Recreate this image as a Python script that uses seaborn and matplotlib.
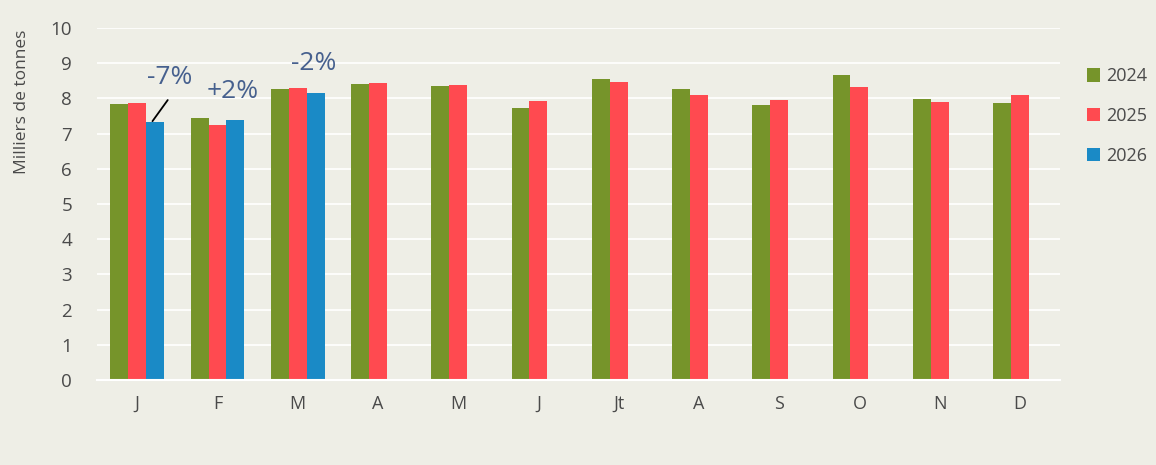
import pandas as pd
import seaborn as sns
import matplotlib.pyplot as plt
from matplotlib.patches import Patch

months = ["jan", "feb", "mar", "apr", "may", "jun", "jul", "aug", "sep", "oct", "nov", "dec"]
month_labels = ["J", "F", "M", "A", "M", "J", "Jt", "A", "S", "O", "N", "D"]
vals_2024 = [7.84, 7.44, 8.27, 8.41, 8.35, 7.73, 8.55, 8.27, 7.81, 8.66, 7.98, 7.87]
vals_2025 = [7.87, 7.24, 8.30, 8.44, 8.38, 7.93, 8.47, 8.09, 7.95, 8.32, 7.90, 8.10]
vals_2026 = [7.33, 7.39, 8.15]
years = ["2024", "2025", "2026"]
colors = ["#76942a", "#ff4a50", "#1a8ac6"]
pct_labels = ["-7%", "+2%", "-2%"]

rows = []
for yr, vals in zip(years, [vals_2024, vals_2025, vals_2026]):
    for m, v in zip(months, vals):
        rows.append({"month": m, "year": yr, "value": v})
df = pd.DataFrame(rows)

BG = "#eeeee6"
TXT = "#4a4a4a"
sns.set_theme(style="white")
plt.rcParams["font.family"] = ["Open Sans", "DejaVu Sans"]

fig = plt.figure(figsize=(11.56, 4.65), dpi=100, facecolor=BG)
ax = fig.add_axes([0.084, 0.183, 0.833, 0.757], facecolor=BG)

sns.barplot(data=df, x="month", y="value", hue="year", order=months,
            hue_order=years, palette=colors, width=0.67, saturation=1,
            linewidth=0, ax=ax, legend=False)

ax.set_ylim(0, 10)
ax.set_xlim(-0.5, 11.5)
ax.set_yticks(range(0, 11))
ax.yaxis.grid(True, color="white", lw=1.2)
ax.set_axisbelow(True)
for s in ["top", "right", "left"]:
    ax.spines[s].set_visible(False)
ax.spines["bottom"].set_color("white")
ax.spines["bottom"].set_linewidth(1.5)

ax.set_xticks(range(12))
ax.set_xticklabels(month_labels, fontsize=13, color=TXT)
ax.set_xticks([i + 0.5 for i in range(-1, 12)], minor=True)
ax.tick_params(axis="x", which="major", length=0, pad=11)
ax.tick_params(axis="x", which="minor", length=6, color="white", width=1.2)
ax.tick_params(axis="y", length=0, labelsize=13.5, labelcolor=TXT, pad=18)
ax.set_xlabel("")
ax.set_ylabel("Milliers de tonnes", fontsize=12.5, color=TXT)
ax.yaxis.set_label_coords(-0.07, 0.79)

ann_color = "#46608e"
ax.text(0.41, 8.6, pct_labels[0], fontsize=19, color=ann_color, ha="center", va="center")
ax.text(1.19, 8.18, pct_labels[1], fontsize=19, color=ann_color, ha="center", va="center")
ax.text(2.2, 8.98, pct_labels[2], fontsize=19, color=ann_color, ha="center", va="center")
ax.plot([0.19, 0.38], [7.35, 7.95], color="black", lw=1.3)

handles = [Patch(facecolor=c, edgecolor="none") for c in colors]
fig.legend(handles, years, loc="upper left", bbox_to_anchor=(0.926, 0.89),
           frameon=False, fontsize=13, labelcolor=TXT, handlelength=0.75,
           handleheight=0.75, handletextpad=0.35, labelspacing=1.2)

fig.savefig("out.png", dpi=100, facecolor=BG)
